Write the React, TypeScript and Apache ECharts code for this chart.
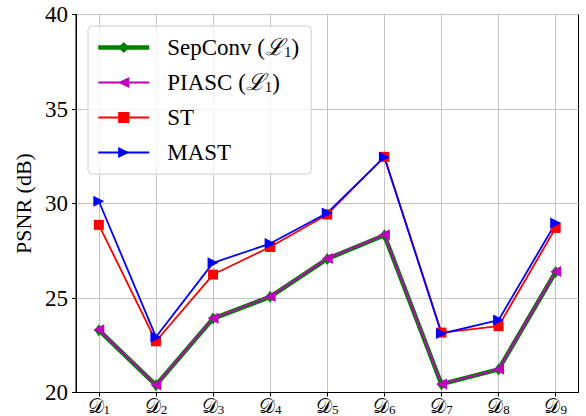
import React, { useEffect, useRef } from "react";
import * as echarts from "echarts";

const categories = ["1", "2", "3", "4", "5", "6", "7", "8", "9"];
const sepconv = [23.3, 20.39, 23.91, 25.06, 27.07, 28.32, 20.44, 21.22, 26.38];
const piasc = [23.32, 20.4, 23.93, 25.08, 27.09, 28.35, 20.45, 21.23, 26.4];
const st = [28.87, 22.71, 26.24, 27.7, 29.42, 32.47, 23.17, 23.51, 28.71];
const mast = [30.12, 22.94, 26.86, 27.88, 29.5, 32.45, 23.12, 23.83, 28.97];
const yMin = 20;
const yMax = 40;
const yStep = 5;

const SERIF = "Liberation Serif";
const GRID = "#c4c4c4";

export default function App() {
  const ref = useRef<HTMLDivElement>(null);
  useEffect(() => {
    if (!ref.current) return;
    const chart = echarts.init(ref.current, null, { renderer: "svg" });
    const xs = categories.map((_, i) => i + 1);
    const pts = (arr: number[]) => arr.map((v, i) => [xs[i], v]);
    chart.setOption({
      animation: false,
      backgroundColor: "#fff",
      textStyle: { fontFamily: SERIF },
      grid: {
        left: 76,
        top: 14.5,
        right: 7.5,
        bottom: 23.5,
        outerBoundsMode: "none",
        containLabel: false,
        show: true,
        borderColor: "#000",
        borderWidth: 1,
        backgroundColor: "transparent",
      },
      legend: {
        left: 88,
        top: 26,
        orient: "vertical",
        itemWidth: 51,
        itemHeight: 14,
        itemGap: 12,
        padding: [10, 12, 10, 8],
        backgroundColor: "rgba(255,255,255,0.8)",
        borderColor: "#d0d0d0",
        borderWidth: 1,
        borderRadius: 4,
        data: [
          { name: "SepConv (L1)", lineStyle: { width: 4.5 } },
          { name: "PIASC (L1)", lineStyle: { width: 2 } },
          { name: "ST", lineStyle: { width: 2 } },
          { name: "MAST", lineStyle: { width: 2 } },
        ],
        textStyle: {
          fontFamily: SERIF,
          fontSize: 23,
          lineHeight: 23,
          color: "#000",
          padding: [0, 0, 0, 13],
          rich: {
            a: { fontFamily: SERIF, fontSize: 23, color: "#000" },
            l: { fontFamily: SERIF, fontSize: 23, fontStyle: "italic", color: "#000" },
            s: { fontFamily: SERIF, fontSize: 15, color: "#000", verticalAlign: "bottom", padding: [9, 0, 0, 0] },
          },
        },
        formatter: (name: string) => {
          if (name.indexOf("(") >= 0) {
            const base = name.split(" (")[0];
            return `{a|${base} (}{l|ℒ}{s|1}{a|)}`;
          }
          return `{a|${name}}`;
        },
      },
      xAxis: {
        type: "value",
        min: 0.6,
        max: 9.4,
        axisLine: { show: true, lineStyle: { color: "#000", width: 1 } },
        axisTick: { show: true, length: 4, customValues: xs, lineStyle: { color: "#000" } },
        splitLine: { show: true, lineStyle: { color: GRID, width: 1 } },
        axisLabel: {
          customValues: xs,
          margin: 3,
          fontFamily: SERIF,
          formatter: (v: number) => `{d|𝒟}{s|${categories[Math.round(v) - 1]}}`,
          rich: {
            d: { fontFamily: SERIF, fontSize: 20, lineHeight: 20, color: "#000" },
            s: { fontFamily: SERIF, fontSize: 13, lineHeight: 13, color: "#000", verticalAlign: "bottom", padding: [5, 0, 0, 0] },
          },
        },
      },
      yAxis: {
        type: "value",
        min: yMin,
        max: yMax,
        interval: yStep,
        name: "PSNR (dB)",
        nameLocation: "middle",
        nameGap: 42,
        nameTextStyle: { fontFamily: SERIF, fontSize: 22, color: "#000" },
        axisLine: { show: true, lineStyle: { color: "#000", width: 1 } },
        axisTick: { show: true, length: 4, lineStyle: { color: "#000" } },
        splitLine: { show: true, lineStyle: { color: GRID, width: 1 } },
        axisLabel: { fontFamily: SERIF, fontSize: 23, color: "#000", margin: 8 },
      },
      series: [
        {
          name: "SepConv (L1)",
          type: "line",
          data: pts(sepconv),
          symbol: "diamond",
          symbolSize: [9, 12],
          lineStyle: { color: "#008000", width: 4.5 },
          itemStyle: { color: "#008000" },
        },
        {
          name: "PIASC (L1)",
          type: "line",
          data: pts(piasc),
          symbol: "triangle",
          symbolRotate: 90,
          symbolSize: 11,
          lineStyle: { color: "#bf00bf", width: 1.8 },
          itemStyle: { color: "#bf00bf" },
        },
        {
          name: "ST",
          type: "line",
          data: pts(st),
          symbol: "rect",
          symbolSize: 10,
          lineStyle: { color: "#ff0000", width: 1.8 },
          itemStyle: { color: "#ff0000" },
        },
        {
          name: "MAST",
          type: "line",
          data: pts(mast),
          symbol: "triangle",
          symbolRotate: -90,
          symbolSize: 11,
          lineStyle: { color: "#0000ff", width: 1.8 },
          itemStyle: { color: "#0000ff" },
        },
      ],
    });
    return () => chart.dispose();
  }, []);
  return (
    <div
      ref={ref}
      style={{ position: "fixed", left: 0, top: 0, width: 586, height: 416 }}
    />
  );
}
